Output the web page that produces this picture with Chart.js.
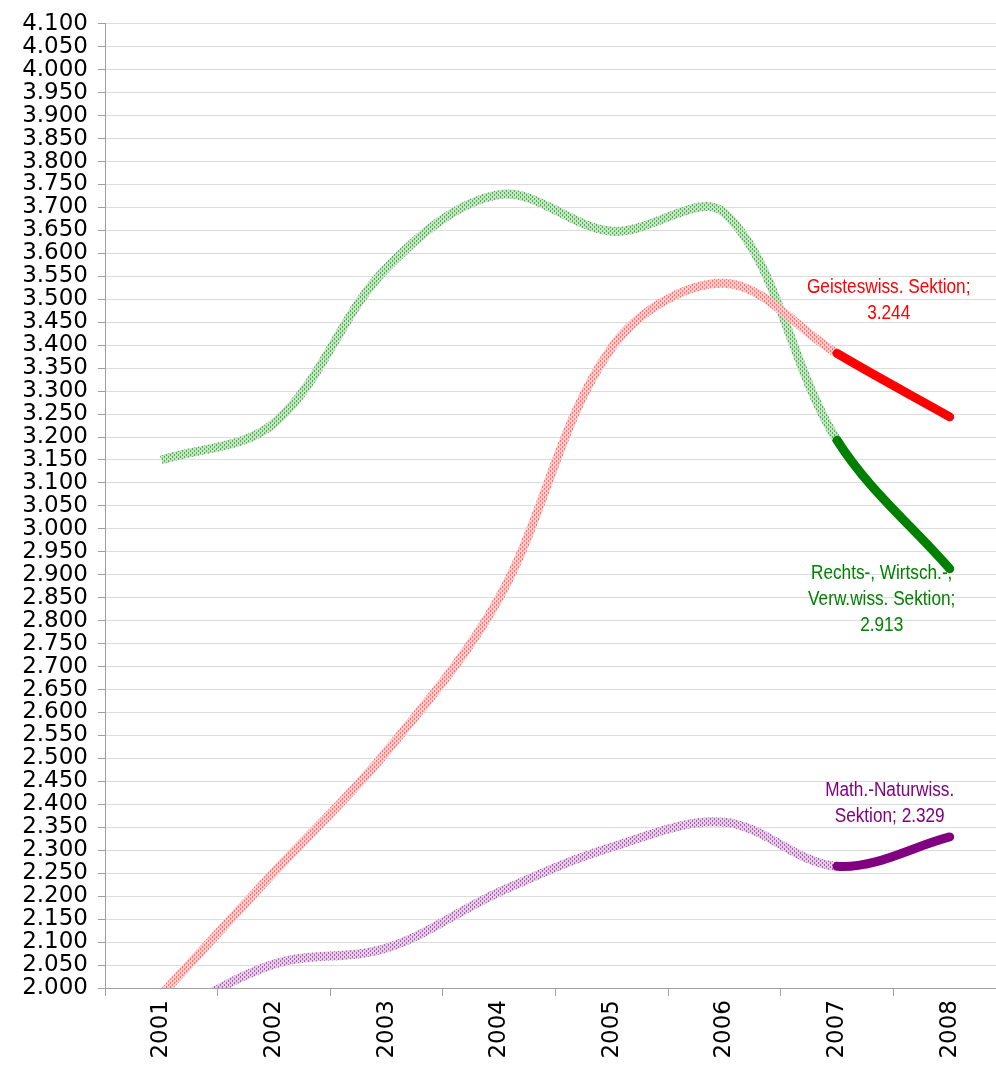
<!DOCTYPE html>
<html>
<head>
<meta charset="utf-8">
<script src="https://cdn.jsdelivr.net/npm/chart.js@4.4.1/dist/chart.umd.min.js"></script>
<style>
  html, body { margin: 0; padding: 0; background: #fff; overflow: hidden; }
  #wrap { width: 1006px; height: 1067px; position: relative; }
</style>
</head>
<body>
<div id="wrap"><canvas id="chart"></canvas></div>
<script>
// categories and series (German number format on axis)
const years = ['2001', '2002', '2003', '2004', '2005', '2006', '2007', '2008'];
const geistes = [1985, 2252, 2515, 2850, 3395, 3535, 3382, 3244];
const rechts = [3150, 3230, 3568, 3728, 3648, 3688, 3193, 2913];
const mathNat = [1930, 2052, 2087, 2209, 2307, 2361, 2265, 2329];

const yMin = 2000;
const yMax = 4100;
const yStep = 50;

// end labels, one entry per line
const geistesLabel = ['Geisteswiss. Sektion;', '3.244'];
const rechtsLabel = ['Rechts-, Wirtsch.-,', 'Verw.wiss. Sektion;', '2.913'];
const mathNatLabel = ['Math.-Naturwiss.', 'Sektion; 2.329'];

// the faded part of each line is a light dotted texture, like the Excel export
function hatch(light, dark) {
    const c = document.createElement('canvas');
    c.width = 4;
    c.height = 4;
    const g = c.getContext('2d');
    g.fillStyle = light;
    g.fillRect(0, 0, 4, 4);
    g.fillStyle = dark;
    g.fillRect(0, 0, 1, 2);
    g.fillRect(2, 2, 1, 2);
    return g.createPattern(c, 'repeat');
}

const ctx = document.getElementById('chart').getContext('2d');

function series(label, data, solid, light, dark, lines, dx, dy) {
    const faded = hatch(light, dark);
    return {
        label,
        data,
        borderColor: solid,
        borderWidth: 9,
        tension: 0.35,
        pointRadius: 0,
        clip: 0,
        endLabel: { lines, color: solid, dx, dy },
        segment: {
            // last year is the highlighted stretch
            borderColor: (c) => (c.p0DataIndex >= 6 ? solid : faded),
            borderCapStyle: (c) => (c.p0DataIndex >= 6 ? 'round' : 'butt'),
        },
    };
}

const endLabels = {
    id: 'endLabels',
    afterDatasetsDraw(chart) {
        const g = chart.ctx;
        const squeeze = 0.86; // narrow face look
        g.save();
        g.font = '20px "Liberation Sans", Arial, sans-serif';
        g.textAlign = 'center';
        g.textBaseline = 'middle';
        chart.data.datasets.forEach((ds, i) => {
            const pt = chart.getDatasetMeta(i).data[ds.data.length - 1];
            const lab = ds.endLabel;
            g.fillStyle = lab.color;
            lab.lines.forEach((line, k) => {
                const x = pt.x + lab.dx;
                const y = pt.y + lab.dy + k * 26;
                g.save();
                g.translate(x, y);
                g.scale(squeeze, 1);
                g.fillText(line, 0, 0);
                g.restore();
            });
        });
        g.restore();
    },
};

const fmt = (v) => {
    const th = Math.floor(v / 1000);
    const rest = String(v % 1000).padStart(3, '0');
    return th + '.' + rest;
};

new Chart(ctx, {
    type: 'line',
    data: {
        labels: years,
        datasets: [
            series('Geisteswiss. Sektion', geistes, '#ff0000', '#ffcaca', '#ff7070', geistesLabel, -61, -129),
            series('Rechts-, Wirtsch.-, Verw.wiss. Sektion', rechts, '#008000', '#c2e6c2', '#4faf4f', rechtsLabel, -68, 5),
            series('Math.-Naturwiss. Sektion', mathNat, '#800080', '#e8caea', '#a75fa7', mathNatLabel, -60, -46),
        ],
    },
    options: {
        responsive: true,
        maintainAspectRatio: false,
        animation: false,
        layout: { padding: { top: 22, right: 0, left: 0, bottom: 0 } },
        plugins: {
            legend: { display: false },
            tooltip: { enabled: false },
        },
        scales: {
            x: {
                offset: true,
                border: { display: true, color: '#a0a0a0', width: 1 },
                grid: {
                    offset: true,
                    drawOnChartArea: false,
                    drawTicks: true,
                    tickLength: 8,
                    tickColor: '#a0a0a0',
                },
                ticks: {
                    minRotation: 90,
                    maxRotation: 90,
                    padding: 4,
                    color: '#000',
                    font: { family: '"DejaVu Sans", sans-serif', size: 23 },
                },
                afterFit: (s) => { s.height = 79; },
            },
            y: {
                min: yMin,
                max: yMax,
                border: { display: true, color: '#a0a0a0', width: 1 },
                grid: {
                    color: '#dcdcdc',
                    lineWidth: 1,
                    tickLength: 7,
                    tickColor: '#a0a0a0',
                },
                ticks: {
                    stepSize: yStep,
                    autoSkip: false,
                    padding: 10,
                    color: '#000',
                    font: { family: '"DejaVu Sans", sans-serif', size: 23 },
                    callback: (v) => fmt(v),
                },
                afterFit: (s) => { s.width = 105; },
            },
        },
    },
    plugins: [endLabels],
});
</script>
</body>
</html>
